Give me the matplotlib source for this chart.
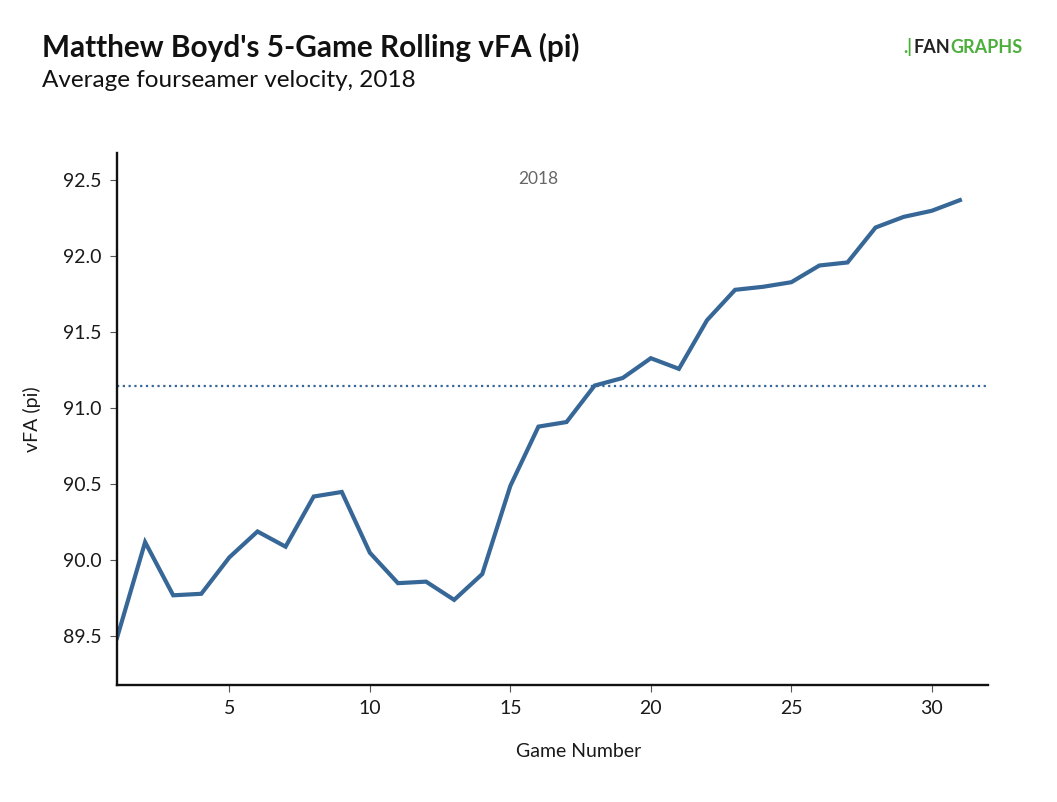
import numpy as np
import matplotlib
matplotlib.use("Agg")
import matplotlib.pyplot as plt

plt.rcParams['font.family'] = ['Lato', 'DejaVu Sans']

# data
games = list(range(1, 32))
vfa = [89.49, 90.12, 89.77, 89.78, 90.02, 90.19, 90.09, 90.42, 90.45, 90.05,
       89.85, 89.86, 89.74, 89.91, 90.49, 90.88, 90.91, 91.15, 91.20, 91.33,
       91.26, 91.58, 91.78, 91.80, 91.83, 91.94, 91.96, 92.19, 92.26, 92.30,
       92.37]
season_avg = 91.15
season_label = "2018"
x_ticks = [5, 10, 15, 20, 25, 30]
y_ticks = [89.5, 90.0, 90.5, 91.0, 91.5, 92.0, 92.5]

line_color = "#366797"
text_color = "#1a1a1a"
green = "#4caf3c"

fig = plt.figure(figsize=(10.57, 8.02), dpi=100)
ax = fig.add_axes([0.1107, 0.1459, 0.824, 0.6633])

ax.plot(games, vfa, color=line_color, lw=3.0, solid_joinstyle='miter')
ax.axhline(season_avg, color=line_color, lw=1.6, ls=(0, (1, 1.6)))
ax.text(16, 92.51, season_label, color="#666666", fontsize=12.5,
        ha='center', va='center')

ax.set_xlim(1, 32)
ax.set_ylim(89.18, 92.68)
ax.set_xticks(x_ticks)
ax.set_yticks(y_ticks)
ax.set_yticklabels([f"{v:.1f}" for v in y_ticks])

for side in ['top', 'right']:
    ax.spines[side].set_visible(False)
for side in ['left', 'bottom']:
    ax.spines[side].set_linewidth(1.7)
    ax.spines[side].set_color("#111111")

ax.tick_params(axis='both', direction='out', length=5, width=0.8,
               color="#555555", labelsize=14, labelcolor=text_color, pad=6)

ax.set_ylabel("vFA (pi)", fontsize=14, color=text_color, labelpad=16)
fig.text(0.547, 0.063, "Game Number", fontsize=14, color=text_color,
         ha='center', va='center')

fig.text(0.040, 0.929, "Matthew Boyd's 5-Game Rolling vFA (pi)", fontsize=21.4,
         fontweight='bold', color="#111111", va='baseline')
fig.text(0.040, 0.892, "Average fourseamer velocity, 2018", fontsize=17.5,
         color="#111111", va='baseline')

# logo, pieces laid side by side
renderer = fig.canvas.get_renderer()
x = 903 / 1057
for part, col in [(".|", green), ("FAN", "#222222"), ("GRAPHS", green)]:
    t = fig.text(x, 0.941, part, fontsize=13, fontweight='bold', color=col,
                 va='center', ha='left')
    bb = t.get_window_extent(renderer)
    x += bb.width / fig.bbox.width + 0.001

fig.savefig("out.png", dpi=100)
